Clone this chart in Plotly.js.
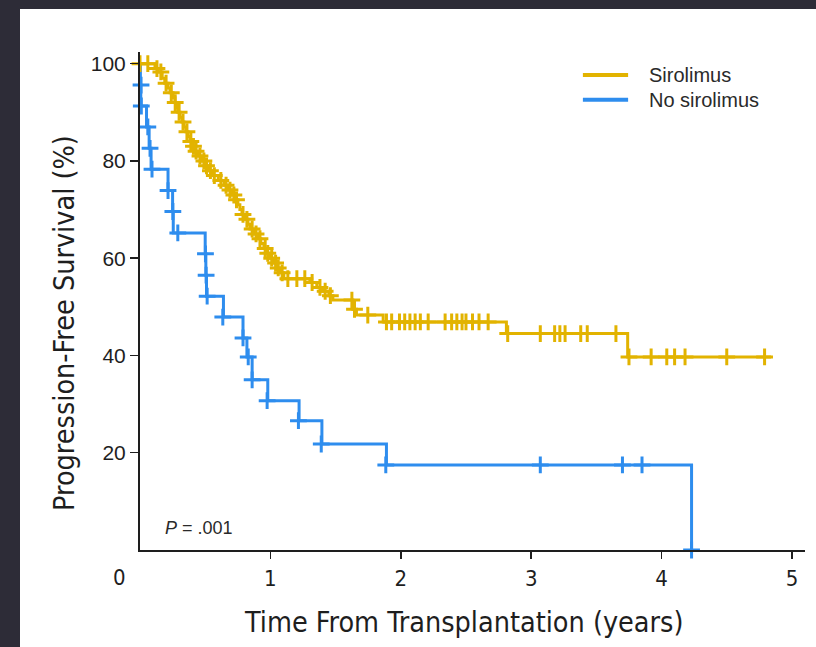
<!DOCTYPE html>
<html>
<head>
<meta charset="utf-8">
<script src="https://cdn.plot.ly/plotly-3.0.1.min.js"></script>
<style>
  html, body { margin: 0; padding: 0; background: #2d2c37; width: 816px; height: 647px; overflow: hidden; }
  #chart { position: absolute; left: 20px; top: 9px; width: 796px; height: 638px; background: #fff; }
</style>
</head>
<body>
<div id="chart"></div>
<script>
// Kaplan-Meier step curves: time of each step (years) and survival after it (%)
const sirolimusTime = [0, 0.115, 0.138, 0.17, 0.19, 0.215, 0.23, 0.253, 0.268, 0.283, 0.29, 0.307, 0.322, 0.337, 0.352, 0.368, 0.383, 0.40, 0.42, 0.444, 0.475, 0.50, 0.52, 0.55, 0.60, 0.644, 0.674, 0.705, 0.728, 0.751, 0.766, 0.782, 0.805, 0.828, 0.843, 0.874, 0.904, 0.927, 0.95, 0.973, 0.996, 1.027, 1.05, 1.073, 1.103, 1.303, 1.356, 1.40, 1.448, 1.479, 1.632, 1.66, 1.865, 2.81, 3.74, 4.84];
const sirolimusSurv = [100, 99, 98.3, 97, 96, 95, 94, 93, 92, 91, 90, 89, 88, 87, 86, 85, 84, 83, 82, 81, 80, 79, 78, 77, 76, 75, 74, 73, 72, 71, 70, 69, 68, 67, 66, 65, 64, 63, 62, 61, 60, 59, 58, 57, 55.8, 55, 54, 53.2, 52.3, 51.4, 49.5, 48.3, 46.9, 44.5, 39.7, 39.7];

// Censored observations (+ marks)
const sirolimusCensTime = [0.0, 0.06, 0.13, 0.16, 0.20, 0.24, 0.27, 0.30, 0.33, 0.36, 0.39, 0.41, 0.43, 0.46, 0.49, 0.51, 0.54, 0.57, 0.62, 0.66, 0.69, 0.72, 0.74, 0.79, 0.82, 0.86, 0.89, 0.92, 0.96, 0.98, 1.01, 1.04, 1.06, 1.09, 1.134, 1.203, 1.264, 1.32, 1.38, 1.42, 1.46, 1.625, 1.645, 1.747, 1.89, 1.93, 1.99, 2.03, 2.07, 2.11, 2.15, 2.21, 2.34, 2.39, 2.43, 2.47, 2.50, 2.55, 2.60, 2.67, 2.82, 3.07, 3.18, 3.22, 3.26, 3.38, 3.43, 3.65, 3.75, 3.92, 4.04, 4.10, 4.18, 4.50, 4.79];
const sirolimusCensSurv = [100, 100, 99, 98.3, 96, 94, 92, 90, 88, 86, 84, 83, 82, 81, 80, 79, 78, 77, 76, 75, 74, 73, 72, 69, 68, 66, 65, 64, 62, 61, 60, 59, 58, 57, 55.8, 55.8, 55.8, 55, 54, 53.2, 52.3, 51.4, 49.5, 48.3, 46.9, 46.9, 46.9, 46.9, 46.9, 46.9, 46.9, 46.9, 46.9, 46.9, 46.9, 46.9, 46.9, 46.9, 46.9, 46.9, 44.5, 44.5, 44.5, 44.5, 44.5, 44.5, 44.5, 44.5, 39.7, 39.7, 39.7, 39.7, 39.7, 39.7, 39.7];

const noSirolimusTime = [0, 0.003, 0.006, 0.05, 0.07, 0.085, 0.215, 0.25, 0.255, 0.50, 0.505, 0.51, 0.64, 0.79, 0.82, 0.86, 0.98, 1.22, 1.395, 1.89, 4.23];
const noSirolimusSurv = [100, 95.6, 91.3, 87.0, 82.6, 78.3, 73.9, 69.6, 65.2, 60.9, 56.5, 52.2, 47.9, 43.6, 39.7, 35.0, 30.7, 26.6, 21.8, 17.5, 0];

const noSirolimusCensTime = [0.008, 0.01, 0.06, 0.077, 0.092, 0.215, 0.252, 0.29, 0.502, 0.507, 0.515, 0.635, 0.79, 0.83, 0.86, 0.975, 1.215, 1.39, 1.885, 3.07, 3.70, 3.85, 4.23];
const noSirolimusCensSurv = [95.6, 91.3, 87.0, 82.6, 78.3, 73.9, 69.6, 65.2, 60.9, 56.5, 52.2, 47.9, 43.6, 39.7, 35.0, 30.7, 26.6, 21.8, 17.5, 17.5, 17.5, 17.5, 0];

const xTicks = [1, 2, 3, 4, 5];
const yTicks = [20, 40, 60, 80, 100];
const groupNames = ['Sirolimus', 'No sirolimus'];
const xTitle = 'Time From Transplantation (years)';
const yTitle = 'Progression-Free Survival (%)';

const GOLD = '#E2B300';
const BLUE = '#2E8DEE';
const INK = '#1e1e1e';
const NARROW = '"DejaVu Sans Condensed", "Liberation Sans Narrow", "Arial Narrow", sans-serif';
const SANS = '"Liberation Sans", Arial, Helvetica, sans-serif';

function stepTrace(x, y, color) {
  return { x: x, y: y, type: 'scatter', mode: 'lines', line: { shape: 'hv', color: color, width: 3 }, showlegend: false, hoverinfo: 'skip' };
}
function censTrace(x, y, color) {
  return {
    x: x, y: y, type: 'scatter', mode: 'markers', cliponaxis: false, showlegend: false, hoverinfo: 'skip',
    marker: { symbol: 'cross-thin', size: 12, color: color, line: { color: color, width: 3 } }
  };
}

const data = [
  stepTrace(noSirolimusTime, noSirolimusSurv, BLUE),
  stepTrace(sirolimusTime, sirolimusSurv, GOLD),
  censTrace(noSirolimusCensTime, noSirolimusCensSurv, BLUE),
  censTrace(sirolimusCensTime, sirolimusCensSurv, GOLD)
];

const layout = {
  width: 796, height: 638,
  margin: { l: 120, r: 11, t: 43, b: 97 },
  paper_bgcolor: '#ffffff', plot_bgcolor: '#ffffff',
  showlegend: false,
  xaxis: {
    range: [0, 5.1], showline: true, linecolor: INK, linewidth: 2, mirror: false,
    ticks: 'outside', ticklen: 7, tickwidth: 1.5, tickcolor: INK,
    tickvals: xTicks, ticktext: xTicks.map(String), ticklabelstandoff: 1,
    tickfont: { family: NARROW, size: 22, color: INK },
    showgrid: false, zeroline: false, automargin: false
  },
  yaxis: {
    range: [0, 102.4], showline: true, linecolor: INK, linewidth: 2,
    ticks: 'outside', ticklen: 8, tickwidth: 1.5, tickcolor: INK,
    tickvals: yTicks, ticktext: yTicks.map(String),
    tickfont: { family: SANS, size: 21, color: INK },
    showgrid: false, zeroline: false, automargin: false
  },
  shapes: [
    { type: 'line', xref: 'paper', yref: 'paper', x0: 0.666, x1: 0.734, y0: 0.954, y1: 0.954, line: { color: GOLD, width: 4 } },
    { type: 'line', xref: 'paper', yref: 'paper', x0: 0.666, x1: 0.734, y0: 0.904, y1: 0.904, line: { color: BLUE, width: 4 } }
  ],
  annotations: [
    // axis titles
    { xref: 'paper', yref: 'paper', x: 0.487, y: 0, xanchor: 'center', yanchor: 'middle', yshift: -72, showarrow: false,
      text: xTitle, font: { family: NARROW, size: 28.5, color: INK } },
    { xref: 'paper', yref: 'paper', x: 0, y: 0.48, xanchor: 'center', yanchor: 'middle', xshift: -75, yshift: -12, textangle: -90, showarrow: false,
      text: yTitle, font: { family: NARROW, size: 28.5, color: INK } },
    // legend
    { xref: 'paper', yref: 'paper', x: 0.762, y: 0.954, xanchor: 'left', yanchor: 'middle', showarrow: false,
      text: groupNames[0], font: { family: SANS, size: 20, color: '#2a2a2a' } },
    { xref: 'paper', yref: 'paper', x: 0.762, y: 0.904, xanchor: 'left', yanchor: 'middle', showarrow: false,
      text: groupNames[1], font: { family: SANS, size: 20, color: '#2a2a2a' } },
    // log-rank p value
    { xref: 'paper', yref: 'paper', x: 0.035, y: 0.044, xanchor: 'left', yanchor: 'middle', showarrow: false,
      text: '<i>P</i> = .001', font: { family: SANS, size: 18, color: '#2a2a2a' } },
    // shared origin label
    { xref: 'x', yref: 'paper', x: 0, y: 0, xanchor: 'center', yanchor: 'middle', xshift: -21, yshift: -27, showarrow: false,
      text: '0', font: { family: NARROW, size: 22, color: INK } }
  ]
};

Plotly.newPlot('chart', data, layout, { staticPlot: true, displayModeBar: false });
</script>
</body>
</html>
